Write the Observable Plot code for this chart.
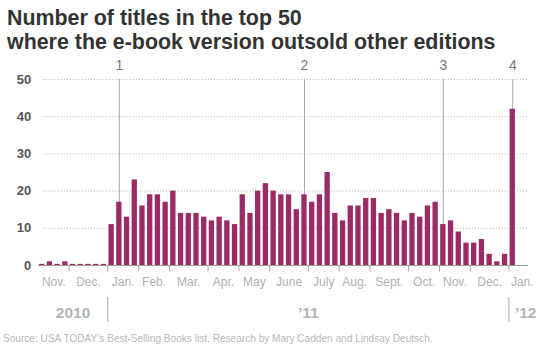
<!DOCTYPE html>
<html><head><meta charset="utf-8">
<script src="https://cdn.jsdelivr.net/npm/d3@7"></script>
<script src="https://cdn.jsdelivr.net/npm/@observablehq/plot@0.6"></script>
<style>
body{margin:0;background:#fff;width:540px;height:355px;overflow:hidden;font-family:"Liberation Sans",Arial,sans-serif}
#title{font-weight:bold;font-size:21.4px;line-height:24px;color:#333;padding:6px 0 0 7px;height:48px;white-space:nowrap}
#chart svg{display:block}
#source{font-size:10.1px;line-height:12px;color:#b8b8b8;padding:7px 0 0 3px;white-space:nowrap}
</style></head><body>
<div id="title">Number of titles in the top 50<br>where the e-book version outsold other editions</div>
<div id="chart"></div>
<div id="source">Source: USA TODAY’s Best-Selling Books list. Research by Mary Cadden and Lindsay Deutsch.</div>
<script>
// Weekly lists (Thursdays), Nov. 4, 2010 – Jan. 5, 2012
const firstWeek = "2010-11-04";
const lastWeek = "2012-01-05";
const values = [0,1,0,1,0,0,0,0,0,
  11,17,13,23,16,19,19,17,20,14,14,14,13,12,13,12,11,19,14,20,22,
  20,19,19,15,19,17,19,25,14,12,16,16,18,18,14,15,14,12,14,13,16,17,11,12,9,6,6,7,3,1,3,42];
const markerDates = ["2011-01-13","2011-06-30","2011-11-03","2012-01-05"];
const markerLabels = ["1","2","3","4"];
const monthNames = ["Jan.","Feb.","Mar.","Apr.","May","June","July","Aug.","Sept.","Oct.","Nov.","Dec."];
const yearNames = {2010:"2010",2011:"’11",2012:"’12"};
const yTicks = [0,10,20,30,40,50];

const weeks = d3.utcThursday.range(new Date(firstWeek), d3.utcDay.offset(new Date(lastWeek), 1));
const data = weeks.map((d, i) => ({i, date: d, value: values[i]}));
const markers = markerDates.map((s, k) => ({i: weeks.findIndex(w => +w === +new Date(s)), label: markerLabels[k]}));

const months = d3.groups(data, d => +d3.utcMonth.floor(d.date)).map(([t, ws]) => ({
  start: ws[0].i, end: ws[ws.length - 1].i, label: monthNames[new Date(t).getUTCMonth()]
}));
const years = d3.groups(data, d => d.date.getUTCFullYear()).map(([y, ws]) => ({
  start: ws[0].i, end: ws[ws.length - 1].i, label: yearNames[y]
}));
const monthBounds = months.slice(1).map(m => m.start - 0.5);
const yearBounds = years.slice(1).map(y => y.start - 0.5);

const plot = Plot.plot({
  width: 540, height: 272,
  marginTop: 25, marginBottom: 61, marginLeft: 37.84, marginRight: 12.3,
  style: {fontFamily: "'Liberation Sans', Arial, sans-serif", background: "#fff", overflow: "visible"},
  x: {type: "linear", domain: [-0.5, 63], axis: null},
  y: {domain: [0, 50], axis: null},
  marks: [
    Plot.ruleY(yTicks.filter(d => d > 0), {stroke: "#b5b5b5", strokeDasharray: "1,2", insetLeft: 5}),
    Plot.ruleX(markers, {x: "i", y1: 0, y2: 50, stroke: "#a8a8a8"}),
    Plot.rectY(data, {x1: d => d.i - 0.5, x2: d => d.i + 0.5, y1: 0, y2: d => Math.max(d.value, 0.3),
      fill: "#9b2b65", insetLeft: 1.2, insetRight: 1.2}),
    Plot.ruleY([0], {stroke: "#9a9a9a"}),
    Plot.text(markers, {x: "i", y: 50, text: "label", dy: -9.5, lineAnchor: "bottom", fontSize: 14, fill: "#777"}),
    Plot.axisY({ticks: yTicks, tickSize: 0, tickPadding: 7, label: null, fontSize: 13, fontWeight: "bold", color: "#555"}),
    Plot.axisX({ticks: monthBounds, tickSize: 6.5, tickFormat: () => "", stroke: "#aaa", label: null}),
    Plot.text(months.filter(m => m.end > m.start), {x: m => (m.start + m.end) / 2, y: 0, text: "label",
      dy: 20, lineAnchor: "bottom", fontSize: 12, fill: "#b0b0b0"}),
    Plot.text(months.filter(m => m.end === m.start), {x: m => m.start - 0.5, y: 0, text: "label",
      dy: 20, dx: 2, textAnchor: "start", lineAnchor: "bottom", fontSize: 12, fill: "#b0b0b0"}),
    Plot.ruleX(yearBounds, {x: d => d, insetTop: 218, insetBottom: -57, stroke: "#aaa"}),
    Plot.text(years.filter(y => y.end > y.start), {x: y => (y.start + y.end) / 2, y: 0, text: "label",
      dy: 52, lineAnchor: "bottom", fontSize: 15.5, fontWeight: "bold", fill: "#b3b3b3"}),
    Plot.text(years.filter(y => y.end === y.start), {x: y => y.start - 0.5, y: 0, text: "label",
      dy: 52, dx: 6, textAnchor: "start", lineAnchor: "bottom", fontSize: 15.5, fontWeight: "bold", fill: "#b3b3b3"})
  ]
});
document.getElementById("chart").append(plot);
</script>
</body></html>
